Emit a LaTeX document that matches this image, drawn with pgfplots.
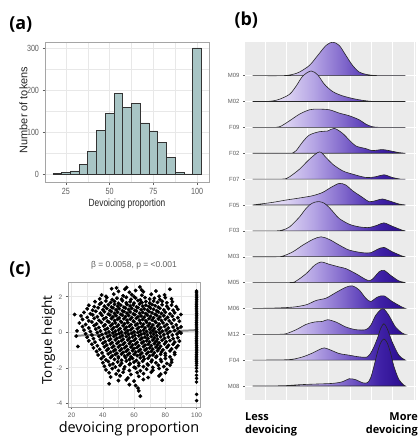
\documentclass[border=0pt]{standalone}
\usepackage{fontspec}
\setmainfont{Liberation Sans}
\newfontfamily\narrow[FakeStretch=0.8]{Liberation Sans}
\newfontfamily\osans{Open Sans}
\usepackage{pgfplots}
\pgfplotsset{compat=1.18}

\definecolor{histfill}{RGB}{168,197,197}
\definecolor{histline}{RGB}{51,51,51}
\definecolor{tickgray}{RGB}{95,95,95}
\definecolor{gridgray}{RGB}{232,232,232}
\definecolor{panelgray}{RGB}{235,235,235}
\definecolor{framegray}{RGB}{165,165,165}
\definecolor{fitgray}{RGB}{135,135,135}
\definecolor{r0}{RGB}{240,236,250}
\definecolor{r1}{RGB}{220,211,242}
\definecolor{r2}{RGB}{182,166,229}
\definecolor{r3}{RGB}{136,112,207}
\definecolor{r4}{RGB}{100,72,189}
\definecolor{r5}{RGB}{64,34,167}
\definecolor{r6}{RGB}{40,10,142}

% ridge gradient: 25bp..75bp is the path's box (zx 158..620)
\pgfdeclarehorizontalshading{ridgefill}{100bp}{color(0bp)=(r0); color(25bp)=(r0);
  color(36bp)=(r1); color(44.7bp)=(r2); color(53.4bp)=(r3); color(59.8bp)=(r4);
  color(66.3bp)=(r5); color(75bp)=(r6); color(100bp)=(r6)}

\pgfplotsset{
  bwpanel/.style={scale only axis, anchor=south west,
    axis line style={framegray, line width=0.6pt},
    grid=both, major grid style={gridgray, line width=0.6pt},
    minor grid style={gridgray, line width=0.35pt},
    tick align=outside, major tick length=2.5pt, minor tick length=0pt,
    xtick pos=bottom, ytick pos=left,
    tick style={tickgray, line width=0.5pt},
    /pgf/number format/assume math mode=true},
  ridge/.style={shade, shading=ridgefill, draw=black!85, line width=0.6pt,
    smooth, tension=0.5},
}

\begin{document}
\begin{tikzpicture}
\fill[white] (0,0) rectangle (418bp,-439bp);

% ---------------- (a) histogram ----------------
\begin{axis}[bwpanel, at={(45bp,-182.3bp)}, width=164bp, height=140bp,
  xmin=13, xmax=106.8, ymin=-19, ymax=313.5,
  xtick={25,50,75,100}, ytick={0,100,200,300},
  minor xtick={37.5,62.5,87.5}, minor ytick={50,150,250},
  tick label style={font=\narrow\fontsize{9}{9}\selectfont, text=tickgray}]
\addplot[ybar, bar width=5, fill=histfill, draw=histline, line width=0.7pt]
  coordinates {(20,2)(25,4)(30,8)(35,24)(40,54)(45,104)(50,144)(55,193)(60,158)
               (65,169)(70,122)(75,103)(80,76)(85,41)(90,5)(95,1)(100,300)};
\end{axis}
\node[rotate=90, font=\fontsize{11}{12}\selectfont, text=black!85] at (23.5bp,-110bp) {Number of tokens};
\node[font=\narrow\fontsize{10.5}{11}\selectfont, text=black!85] at (127bp,-204bp) {Devoicing proportion};
\node[font=\osans\bfseries\fontsize{18}{18}\selectfont, inner sep=0pt] at (20.8bp,-24.7bp) {(a)};

% ---------------- (b) ridgelines ----------------
\begin{axis}[scale only axis, anchor=south west, at={(245bp,-400bp)}, width=171bp, height=358bp,
  xmin=135, xmax=652, ymin=-0.54, ymax=13.3,
  axis background/.style={fill=panelgray}, axis line style={draw=none},
  xtick={195,259,324,388,453,517,581,646}, xticklabels={}, xtick style={draw=none},
  ytick={0,...,12}, yticklabels={M08,F04,M12,M06,M05,M03,F03,F05,F07,F02,F09,M02,M09},
  ytick pos=left, tick align=outside, major tick length=2pt,
  ytick style={tickgray, line width=0.4pt},
  grid=major, grid style={white, line width=0.7pt},
  yticklabel style={font=\fontsize{6}{6}\selectfont, text=tickgray}]
% M09
\addplot[ridge] table[x=x, y expr=12+\thisrow{h}/78] {
x h
158 0
250 0
280 4
300 11
330 31
355 61
380 91
400 101
420 91
440 61
460 31
480 11
500 4
520 1
545 0
620 0
} -- cycle;
% M02
\addplot[ridge] table[x=x, y expr=11+\thisrow{h}/78] {
x h
158 0
200 0
220 2
240 7
270 22
290 47
310 77
335 92
355 80
375 52
400 30
430 17
470 7
510 1
540 0
620 0
} -- cycle;
% F09
\addplot[ridge] table[x=x, y expr=10+\thisrow{h}/78] {
x h
158 0
215 0
240 2
270 20
300 40
330 53
355 55
390 53
420 43
450 35
480 23
500 10
520 2
545 0
620 0
} -- cycle;
% F02
\addplot[ridge] table[x=x, y expr=9+\thisrow{h}/78] {
x h
158 0
260 0
280 1
290 8
310 35
330 55
360 65
385 67
405 75
430 60
450 40
470 22
500 14
520 8
550 11
570 8
600 2
620 0
} -- cycle;
% F07
\addplot[ridge] table[x=x, y expr=8+\thisrow{h}/78] {
x h
158 0
245 0
260 2
270 7
300 30
330 60
360 82
380 65
400 45
430 25
460 15
500 5
530 7
555 13
580 5
605 0
620 0
} -- cycle;
% F05
\addplot[ridge] table[x=x, y expr=7+\thisrow{h}/78] {
x h
158 0
190 4
220 8
260 15
300 21
340 28
370 38
395 53
420 65
440 60
460 43
490 23
510 10
530 13
550 18
575 11
600 3
620 0
} -- cycle;
% F03
\addplot[ridge] table[x=x, y expr=6+\thisrow{h}/78] {
x h
158 0
230 0
250 3
270 12
300 42
315 62
330 78
345 86
360 88
375 83
390 70
405 53
420 37
450 20
480 12
510 10
535 17
555 24
580 14
610 2
620 0
} -- cycle;
% M03
\addplot[ridge] table[x=x, y expr=5+\thisrow{h}/78] {
x h
158 0
230 0
250 2
280 15
310 35
340 52
365 60
390 52
420 35
450 20
490 12
515 12
535 22
555 28
580 15
610 2
620 0
} -- cycle;
% M05
\addplot[ridge] table[x=x, y expr=4+\thisrow{h}/78] {
x h
158 0
270 0
290 5
320 27
345 52
365 62
390 55
420 47
440 42
470 27
505 7
520 10
540 32
555 37
575 22
600 5
615 1
620 0
} -- cycle;
% M06
\addplot[ridge] table[x=x, y expr=3+\thisrow{h}/78] {
x h
158 0
220 1
280 4
320 11
350 24
380 31
410 48
440 64
460 68
480 56
500 31
515 21
535 34
555 38
580 21
610 4
620 0
} -- cycle;
% M12
\addplot[ridge] table[x=x, y expr=2+\thisrow{h}/78] {
x h
158 0
240 0
260 2
290 14
320 30
345 37
370 39
385 44
410 37
440 22
470 14
500 14
515 27
530 57
545 74
555 76
570 57
590 22
610 4
620 0
} -- cycle;
% F04
\addplot[ridge] table[x=x, y expr=1+\thisrow{h}/78] {
x h
158 0
250 1
280 3
310 10
340 22
360 32
375 37
395 30
420 20
450 15
480 10
505 10
520 30
535 65
545 95
555 110
565 95
580 55
600 15
615 3
620 0
} -- cycle;
% M08
\addplot[ridge] table[x=x, y expr=\thisrow{h}/78] {
x h
158 0
250 1
300 4
350 6
400 8
430 13
450 22
470 19
490 10
505 10
515 25
525 60
535 100
545 130
555 142
565 130
575 100
585 60
600 20
615 3
620 0
} -- cycle;
\end{axis}
\node[font=\osans\bfseries\fontsize{18}{18}\selectfont, inner sep=0pt] at (246.3bp,-20.3bp) {(b)};
\node[font=\osans\bfseries\fontsize{11}{11}\selectfont, anchor=base west, inner sep=0pt] at (245bp,-420.5bp) {Less};
\node[font=\osans\bfseries\fontsize{11}{11}\selectfont, anchor=base west, inner sep=0pt] at (245bp,-433.5bp) {devoicing};
\node[font=\osans\bfseries\fontsize{11}{11}\selectfont, anchor=base east, inner sep=0pt] at (418bp,-420.5bp) {More};
\node[font=\osans\bfseries\fontsize{11}{11}\selectfont, anchor=base east, inner sep=0pt] at (418bp,-433.5bp) {devoicing};

% ---------------- (c) scatter ----------------
\begin{axis}[bwpanel, at={(68.3bp,-407bp)}, width=131.7bp, height=125bp,
  xmin=17.9, xmax=102.2, ymin=-4.21, ymax=2.83,
  xtick={20,40,60,80,100}, ytick={-4,-2,0,2},
  minor xtick={30,50,70,90}, minor ytick={-3,-1,1},
  tick label style={font=\fontsize{6.5}{6.5}\selectfont, text=tickgray}]
\addplot[only marks, mark=*, mark size=1.75pt, black] coordinates {
(45.6,2.45)(48.8,2.5)(54.1,2.42)(55.2,2.52)(63.7,2.55)(64.8,2.38)(82.9,2.42)
(50,2.3)(57,2.25)(61,2.35)(66,2.28)(74,2.32)
(39.2,2.1)(42,2.02)(47,2.15)(53,2.05)(58.5,2.12)(60,2.0)(65,2.08)(71,2.14)(76,2.03)(79.5,2.1)
(38,1.88)(42.5,1.95)(46,1.84)(49,1.92)(52,1.86)(55,1.97)(58,1.85)(61,1.93)(64,1.82)(67,1.95)(70,1.87)(73,1.91)(76.5,1.84)(80,1.95)(84,1.88)
(35,1.72)(39,1.65)(42,1.76)(45,1.68)(47.5,1.74)(50,1.63)(52.5,1.77)(55,1.66)(57.5,1.72)(60,1.64)(62.5,1.78)(65,1.67)(67.5,1.73)(70,1.65)(72.5,1.76)(75,1.68)(78,1.74)(81,1.66)(84.5,1.72)
(31,1.52)(34.5,1.44)(38,1.58)(41,1.47)(43.5,1.55)(45.5,1.42)(47.5,1.57)(49.5,1.46)(51.5,1.53)(53.5,1.41)(55.5,1.56)(57.5,1.48)(59.5,1.54)(61.5,1.43)(63.5,1.59)(65.5,1.47)(67.5,1.52)(69.5,1.45)(71.5,1.56)(73.5,1.49)(75.5,1.41)(78,1.55)(81,1.46)(84,1.53)(87,1.44)
(30,1.32)(33.5,1.24)(37,1.38)(40,1.27)(42.5,1.35)(44.5,1.22)(46.5,1.37)(48.5,1.26)(50.5,1.33)(52.5,1.21)(54.5,1.36)(56.5,1.28)(58.5,1.34)(60.5,1.23)(62.5,1.39)(64.5,1.27)(66.5,1.32)(68.5,1.25)(70.5,1.36)(72.5,1.29)(74.5,1.21)(76.5,1.35)(79,1.26)(82,1.33)(85,1.24)(88,1.3)
(28,1.12)(32,1.04)(35.5,1.18)(38.5,1.07)(41,1.15)(43.5,1.02)(45.5,1.17)(47.5,1.06)(49.5,1.13)(51.5,1.01)(53.5,1.16)(55.5,1.08)(57.5,1.14)(59.5,1.03)(61.5,1.19)(63.5,1.07)(65.5,1.12)(67.5,1.05)(69.5,1.16)(71.5,1.09)(73.5,1.01)(75.5,1.15)(77.5,1.06)(80,1.13)(83,1.04)(86,1.1)(90,1.0)(22,1.0)
(26,0.92)(30,0.84)(33.5,0.98)(36.5,0.87)(39.5,0.95)(42,0.82)(44.5,0.97)(46.5,0.86)(48.5,0.93)(50.5,0.81)(52.5,0.96)(54.5,0.88)(56.5,0.94)(58.5,0.83)(60.5,0.99)(62.5,0.87)(64.5,0.92)(66.5,0.85)(68.5,0.96)(70.5,0.89)(72.5,0.81)(74.5,0.95)(76.5,0.86)(79,0.93)(81.5,0.84)(84.5,0.9)(88,0.82)
(27,0.72)(31,0.64)(34.5,0.78)(37.5,0.67)(40.5,0.75)(43,0.62)(45.5,0.77)(47.5,0.66)(49.5,0.73)(51.5,0.61)(53.5,0.76)(55.5,0.68)(57.5,0.74)(59.5,0.63)(61.5,0.79)(63.5,0.67)(65.5,0.72)(67.5,0.65)(69.5,0.76)(71.5,0.69)(73.5,0.61)(75.5,0.75)(77.5,0.66)(80,0.73)(82.5,0.64)(85.5,0.7)(89,0.62)
(25,0.52)(29,0.44)(33,0.58)(36,0.47)(39,0.55)(41.5,0.42)(44,0.57)(46,0.46)(48,0.53)(50,0.41)(52,0.56)(54,0.48)(56,0.54)(58,0.43)(60,0.59)(62,0.47)(64,0.52)(66,0.45)(68,0.56)(70,0.49)(72,0.41)(74,0.55)(76,0.46)(78.5,0.53)(81,0.44)(84,0.5)(87,0.42)(90,0.3)
(27,0.32)(31,0.24)(34.5,0.38)(37.5,0.27)(40.5,0.35)(43,0.22)(45,0.37)(47,0.26)(49,0.33)(51,0.21)(53,0.36)(55,0.28)(57,0.34)(59,0.23)(61,0.39)(63,0.27)(65,0.32)(67,0.25)(69,0.36)(71,0.29)(73,0.21)(75,0.35)(77,0.26)(79.5,0.33)(82,0.24)(85,0.3)(88,0.22)
(23.5,0.08)(28,0.12)(32,0.04)(35.5,0.18)(38.5,0.07)(41.5,0.15)(44,0.02)(46,0.17)(48,0.06)(50,0.13)(52,0.01)(54,0.16)(56,0.08)(58,0.14)(60,0.03)(62,0.19)(64,0.07)(66,0.12)(68,0.05)(70,0.16)(72,0.09)(74,0.01)(76,0.15)(78,0.06)(80.5,0.13)(83,0.04)(86,0.1)(89,0.02)
(23,-0.22)(29,-0.08)(33,-0.16)(36.5,-0.02)(39.5,-0.13)(42,-0.05)(44.5,-0.18)(46.5,-0.03)(48.5,-0.14)(50.5,-0.07)(52.5,-0.19)(54.5,-0.04)(56.5,-0.12)(58.5,-0.06)(60.5,-0.17)(62.5,-0.01)(64.5,-0.13)(66.5,-0.08)(68.5,-0.15)(70.5,-0.04)(72.5,-0.11)(74.5,-0.19)(76.5,-0.05)(79,-0.14)(81.5,-0.07)(84.5,-0.16)(87.5,-0.1)(90,-0.05)
(30,-0.28)(34,-0.36)(37.5,-0.22)(40.5,-0.33)(43,-0.25)(45,-0.38)(47,-0.23)(49,-0.34)(51,-0.27)(53,-0.39)(55,-0.24)(57,-0.32)(59,-0.26)(61,-0.37)(63,-0.21)(65,-0.33)(67,-0.28)(69,-0.35)(71,-0.24)(73,-0.31)(75,-0.39)(77,-0.25)(79.5,-0.34)(82,-0.27)(85,-0.36)(88,-0.3)
(31,-0.48)(35,-0.56)(38.5,-0.42)(41.5,-0.53)(44,-0.45)(46,-0.58)(48,-0.43)(50,-0.54)(52,-0.47)(54,-0.59)(56,-0.44)(58,-0.52)(60,-0.46)(62,-0.57)(64,-0.41)(66,-0.53)(68,-0.48)(70,-0.55)(72,-0.44)(74,-0.51)(76,-0.59)(78,-0.45)(80.5,-0.54)(83,-0.47)(86,-0.56)(89,-0.5)
(33,-0.68)(36.5,-0.76)(40,-0.62)(42.5,-0.73)(45,-0.65)(47,-0.78)(49,-0.63)(51,-0.74)(53,-0.67)(55,-0.79)(57,-0.64)(59,-0.72)(61,-0.66)(63,-0.77)(65,-0.61)(67,-0.73)(69,-0.68)(71,-0.75)(73,-0.64)(75,-0.71)(77,-0.79)(79.5,-0.65)(82,-0.74)(85,-0.67)(88,-0.76)
(24,-0.8)(34,-0.88)(38,-0.96)(41,-0.82)(43.5,-0.93)(46,-0.85)(48,-0.98)(50,-0.83)(52,-0.94)(54,-0.87)(56,-0.99)(58,-0.84)(60,-0.92)(62,-0.86)(64,-0.97)(66,-0.81)(68,-0.93)(70,-0.88)(72,-0.95)(74,-0.84)(76,-0.91)(78.5,-0.99)(81,-0.85)(84,-0.94)(87,-0.87)
(36,-1.08)(39.5,-1.16)(42.5,-1.02)(45,-1.13)(47,-1.05)(49,-1.18)(51,-1.03)(53,-1.14)(55,-1.07)(57,-1.19)(59,-1.04)(61,-1.12)(63,-1.06)(65,-1.17)(67,-1.01)(69,-1.13)(71,-1.08)(73,-1.15)(75,-1.04)(77.5,-1.11)(80,-1.19)(83,-1.05)(86,-1.14)
(37,-1.28)(40.5,-1.36)(43.5,-1.22)(46,-1.33)(48,-1.25)(50,-1.38)(52,-1.23)(54,-1.34)(56,-1.27)(58,-1.39)(60,-1.24)(62,-1.32)(64,-1.26)(66,-1.37)(68,-1.21)(70,-1.33)(72,-1.28)(74.5,-1.35)(77,-1.24)(80,-1.31)(83,-1.39)(86,-1.25)
(39,-1.48)(42,-1.56)(45,-1.42)(47.5,-1.53)(50,-1.45)(52,-1.58)(54.5,-1.43)(57,-1.54)(59,-1.47)(61.5,-1.59)(64,-1.44)(66.5,-1.52)(69,-1.46)(71.5,-1.57)(74,-1.41)(77,-1.53)(80,-1.48)(84,-1.55)
(40,-1.72)(43.5,-1.65)(46.5,-1.78)(49.5,-1.67)(52,-1.75)(55,-1.62)(57.5,-1.77)(60,-1.68)(63,-1.74)(65.5,-1.63)(68.5,-1.79)(71,-1.66)(74,-1.72)(77.5,-1.65)(81,-1.76)(84,-1.69)
(41,-1.92)(44.5,-1.85)(48,-1.96)(51,-1.87)(54,-1.95)(57,-1.82)(60,-1.97)(63,-1.88)(66,-1.94)(69,-1.84)(72,-1.98)(75.5,-1.86)(79,-1.93)(83,-1.85)
(42,-2.12)(46,-2.05)(50,-2.16)(53.5,-2.07)(57,-2.15)(61,-2.02)(64,-2.17)(68,-2.08)(72,-2.14)(76,-2.04)(81,-2.1)
(44,-2.28)(48.5,-2.35)(53,-2.25)(58,-2.38)(62,-2.27)(66,-2.33)(71,-2.24)(77,-2.36)(80,-2.28)
(45,-2.52)(51,-2.45)(56,-2.58)(63,-2.48)(69,-2.55)(76,-2.46)
(44,-2.9)(50,-2.72)(55,-2.68)(60,-2.75)(66,-2.66)(78,-2.7)
(57,-2.95)(61,-3.0)(62.5,-3.15)(63,-3.3)(64,-3.6)
};
\addplot[only marks, mark=*, mark size=1.6pt, black] coordinates {
(100,2.32)(100,2.25)(100,2.15)(100,2.05)(100,1.95)(100,1.85)(100,1.75)(100,1.65)(100,1.55)
(100,1.45)(100,1.35)(100,1.25)(100,1.15)(100,1.05)(100,0.95)(100,0.85)(100,0.75)(100,0.65)
(100,0.55)(100,0.45)(100,0.35)(100,0.25)(100,0.15)(100,0.05)(100,-0.05)(100,-0.15)(100,-0.25)
(100,-0.35)(100,-0.45)(100,-0.55)(100,-0.65)(100,-0.75)(100,-0.85)(100,-0.95)(100,-1.05)
(100,-1.15)(100,-1.25)(100,-1.35)(100,-1.45)(100,-1.55)(100,-1.65)(100,-1.75)
(100,-1.87)(100,-2.03)(100,-2.2)(100,-2.42)(100,-2.6)(100,-2.8)(100,-3.5)(100,-3.85)
};
\addplot[fitgray, line width=2pt] coordinates {(22,-0.2)(100,0.12)};
\end{axis}
\node[font=\fontsize{8.5}{9}\selectfont, text=tickgray] at (134bp,-265bp) {β = 0.0058, p = <0.001};
\node[rotate=90, font=\osans\fontsize{13.5}{14}\selectfont] at (48.5bp,-340bp) {Tongue height};
\node[font=\osans\fontsize{14.5}{15}\selectfont, anchor=base, inner sep=0pt] at (129bp,-432.5bp) {devoicing proportion};
\node[font=\osans\bfseries\fontsize{18}{18}\selectfont, inner sep=0pt] at (20bp,-269.7bp) {(c)};

\pgfresetboundingbox
\path[use as bounding box] (0,0) rectangle (418bp,-439bp);
\end{tikzpicture}
\end{document}
